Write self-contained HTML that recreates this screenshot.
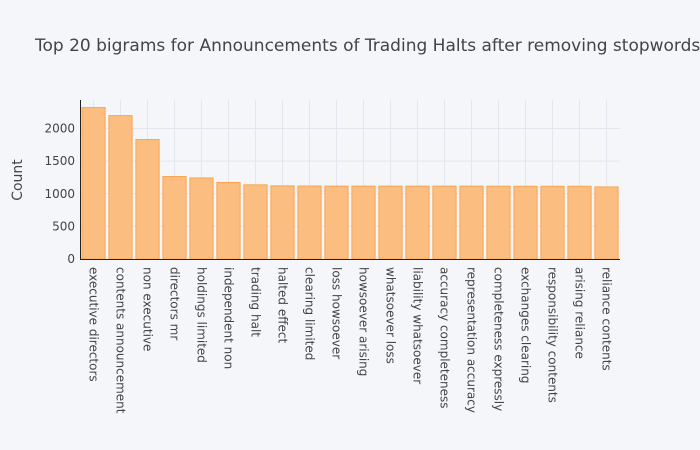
<!DOCTYPE html>
<html><head><meta charset="utf-8"><style>
body{margin:0;background:#f5f6fa;}
svg{display:block;font-family:"DejaVu Sans","Liberation Sans",sans-serif;}
</style></head><body>
<svg id="c" width="700" height="450">
<rect width="700" height="450" fill="#f5f6fa"/>
<text x="35" y="51" font-size="17" fill="#444">Top 20 bigrams for Announcements of Trading Halts after removing stopwords</text>
<text transform="translate(22,180) rotate(-90)" text-anchor="middle" font-size="14" fill="#444">Count</text>
<g id="grid"></g><g id="bars"></g><g id="axes"></g>
</svg>
<script>
const categories=["executive directors","contents announcement","non executive","directors mr","holdings limited","independent non","trading halt","halted effect","clearing limited","loss howsoever","howsoever arising","whatsoever loss","liability whatsoever","accuracy completeness","representation accuracy","completeness expressly","exchanges clearing","responsibility contents","arising reliance","reliance contents"];
const counts=[2321,2198,1831,1265,1243,1173,1137,1121,1119,1117,1117,1117,1117,1117,1117,1116,1115,1115,1115,1105];
const yTicks=[0,500,1000,1500,2000];
const NS="http://www.w3.org/2000/svg";
const L=80,R=620,B=259,T=100,yMax=2437;
const band=(R-L)/categories.length;
const x=i=>L+band*(i+0.5);
const y=v=>B-(v/yMax)*(B-T);
function mk(tag,attrs,parent){const e=document.createElementNS(NS,tag);for(const k in attrs)e.setAttribute(k,attrs[k]);parent.appendChild(e);return e;}
const grid=document.getElementById('grid'),bars=document.getElementById('bars'),axes=document.getElementById('axes');
yTicks.forEach(t=>{
  if(t>0){const g=mk('line',{x1:L,x2:R,y1:y(t),y2:y(t),stroke:'#e3e6ee','stroke-width':1},grid);
  
  }
  const tx=mk('text',{x:L-5,y:y(t)+4,'text-anchor':'end','font-size':12,fill:'#444'},axes);
  tx.textContent=t;
  
  
});
categories.forEach((c,i)=>{
  const g=mk('line',{x1:x(i),x2:x(i),y1:T,y2:B,stroke:'#e3e6ee','stroke-width':1},grid);
  
  
  const w=band*0.86;
  const r=mk('rect',{x:x(i)-w/2,y:y(counts[i]),width:w,height:B-y(counts[i]),fill:'#fbbd80',stroke:'#f9a650','stroke-width':1},bars);
  
  
  const tx=mk('text',{transform:`translate(${x(i)-4},267) rotate(90)`,'font-size':12,fill:'#444'},axes);
  tx.textContent=c;
  
  
});
const xa=mk('line',{x1:L,x2:R,y1:B+0.5,y2:B+0.5,stroke:'#222','stroke-width':1},axes);


const ya=mk('line',{x1:L+0.5,x2:L+0.5,y1:T,y2:B,stroke:'#222','stroke-width':1},axes);


</script>
</body></html>
